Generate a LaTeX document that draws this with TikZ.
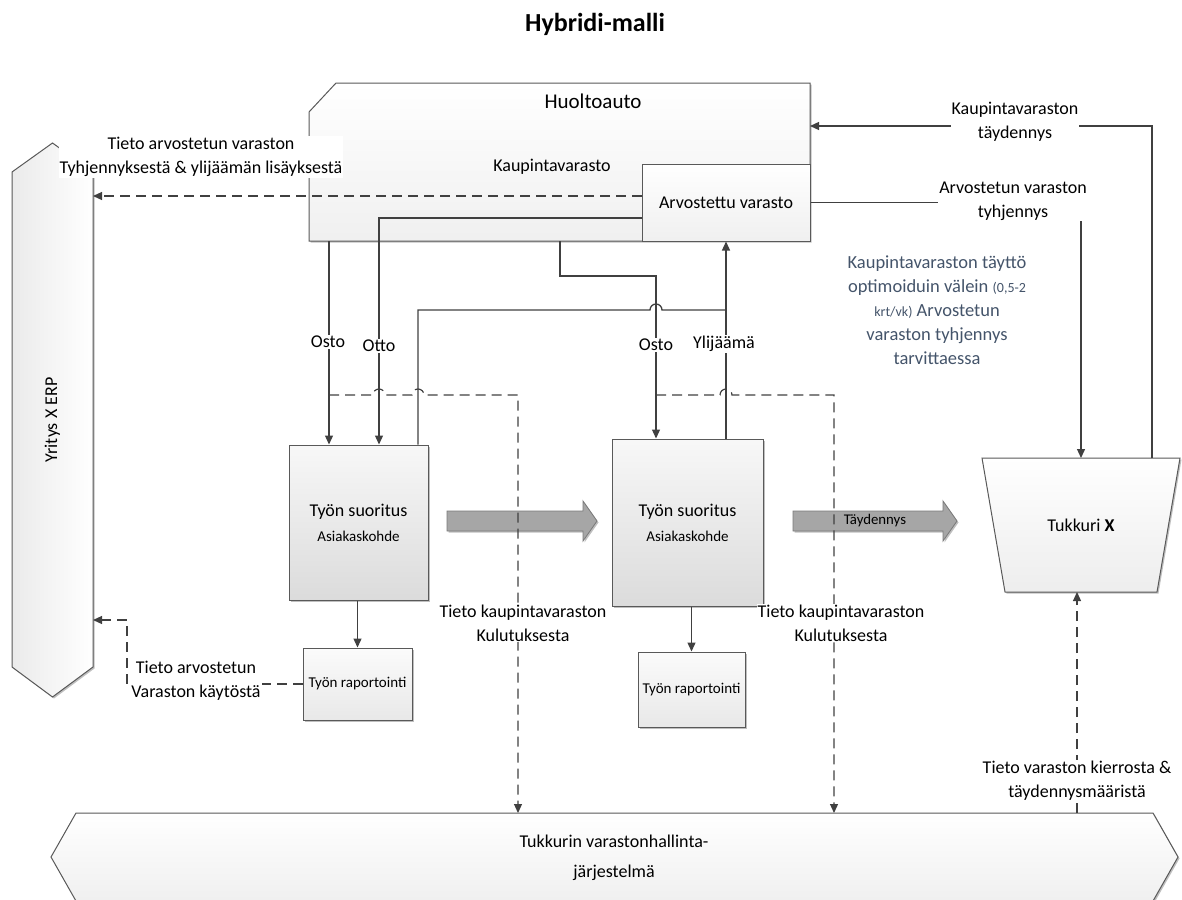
\documentclass[tikz,border=0pt]{standalone}
\usepackage{fontspec}
\setmainfont{Carlito}
\usetikzlibrary{arrows.meta,shadows,calc}

\definecolor{ln}{HTML}{404040}
\definecolor{bd}{HTML}{595959}
\definecolor{note}{HTML}{44546A}
\definecolor{bigarr}{HTML}{A6A6A6}
\definecolor{bigarrbd}{HTML}{7A7A7A}

\tikzset{
  lbl/.style={font=\fontsize{18}{24}\selectfont, align=center, inner sep=1pt, text=black},
  wlbl/.style={lbl, fill=white},
  flow/.style={draw=ln, line width=1.3pt},
  tip/.style={-{Triangle[length=9pt,width=8pt]}},
  info/.style={draw=ln, line width=1.2pt, dash pattern=on 10pt off 6pt},
  box/.style={draw=bd, line width=1pt},
  shd/.style={drop shadow={shadow xshift=1.5pt,shadow yshift=-1.5pt,opacity=0.25,fill=black}},
  frame/.style={inner sep=0pt, outer sep=0pt},
  workbox/.style={box, shd, top color=gray!6, bottom color=gray!28, align=center,
    font=\fontsize{18}{25}\selectfont},
  reportbox/.style={box, shd, top color=gray!3, bottom color=gray!18, align=center,
    font=\fontsize{15}{18}\selectfont, inner sep=1pt},
  bigarrow/.style={fill=bigarr, draw=bigarrbd, line width=0.8pt, shd},
}

\begin{document}
\begin{tikzpicture}[x=1pt,y=-1pt]
\useasboundingbox (0,0) rectangle (1182,899);

% title
\node[font=\fontsize{26}{30}\selectfont\bfseries, anchor=base] (title) at (595,32) {Hybridi-malli};

% ---- service van with its two stocks ----
\node[frame, minimum width=501pt, minimum height=158pt] (hua) at (559.5,162) {};
\path[box, shd, top color=white, bottom color=gray!12]
  ($(hua.north west)+(27,0)$) -- (hua.north east) -- (hua.south east)
  -- (hua.south west) -- ($(hua.north west)+(0,29)$) -- cycle;
\node[lbl, font=\fontsize{21}{24}\selectfont] (huot) at (593,101) {Huoltoauto};
\node[lbl] (kv) at (552,167) {Kaupintavarasto};
\node[box, top color=white, bottom color=gray!12, minimum width=168pt, minimum height=77pt,
      font=\fontsize{18}{22}\selectfont] (arv) at (726,202.5) {Arvostettu varasto};

% ---- ERP column ----
\node[frame, minimum width=81pt, minimum height=554pt] (erp) at (52.5,420) {};
\path[box, shd, left color=gray!16, right color=white]
  (erp.north) -- ($(erp.north east)+(0,29)$) -- ($(erp.south east)+(0,-30)$)
  -- (erp.south) -- ($(erp.south west)+(0,-30)$) -- ($(erp.north west)+(0,29)$) -- cycle;
\node[lbl, rotate=90] (erpt) at (erp) {Yritys X ERP};

% ---- wholesaler ----
\node[frame, minimum width=198pt, minimum height=134pt] (tuk) at (1081,525) {};
\path[box, shd, top color=white, bottom color=gray!14]
  (tuk.north west) -- (tuk.north east) -- ($(tuk.south east)+(-23,0)$)
  -- ($(tuk.south west)+(23,0)$) -- cycle;
\node[lbl] (tukt) at (tuk) {Tukkuri \textbf{X}};

% ---- wholesaler's inventory system ----
\node[frame, minimum width=1127pt, minimum height=88pt] (tbar) at (614.5,857) {};
\path[box, shd, top color=white, bottom color=gray!12]
  ($(tbar.north west)+(25,0)$) -- ($(tbar.north east)+(-25,0)$) -- (tbar.east)
  -- ($(tbar.south east)+(-25,0)$) -- ($(tbar.south west)+(25,0)$) -- (tbar.west) -- cycle;
\node[lbl, font=\fontsize{18}{30}\selectfont] (tbart) at (614,858) {Tukkurin varastonhallinta-\\järjestelmä};

% ---- work on site ----
\node[workbox, minimum width=139pt, minimum height=155pt] (lw) at (358.5,522.5)
  {Työn suoritus\\{\fontsize{15}{18}\selectfont Asiakaskohde}};
\node[workbox, minimum width=151pt, minimum height=167pt] (rw) at (687.5,522.5)
  {Työn suoritus\\{\fontsize{15}{18}\selectfont Asiakaskohde}};
\node[reportbox, minimum width=109pt, minimum height=72pt] (lr) at (357.5,684) {Työn raportointi};
\node[reportbox, minimum width=107pt, minimum height=75pt] (rr) at (691.5,689.5) {Työn raportointi};

% ---- broad process arrows ----
\path[bigarrow] (447,511) -- (583,511) -- (583,501) -- (597,521) -- (583,541) -- (583,531) -- (447,531) -- cycle;
\path[bigarrow] (793,511) -- (943,511) -- (943,501) -- (957,521) -- (943,541) -- (943,531) -- (793,531) -- cycle;
\node[lbl, font=\fontsize{14.8}{18}\selectfont] (tayd) at (875,521) {Täydennys};

% ---- material flows ----
\draw[flow, tip] (hua.south -| 329,0) -- (lw.north -| 329,0);
\draw[flow, tip] (arv.west |- 0,218) -| (lw.north -| 379,0);
\draw[flow, tip] (hua.south -| 560,0) |- (656,276) -- (rw.north -| 656,0);
\draw[flow] (lw.north -| 418,0) |- (650,310) arc[start angle=180, end angle=0, radius=6pt] -- (726,310);
\draw[flow, tip] (rw.north -| 726,0) -- (arv.south -| 726,0);
\draw[flow, tip] (lw.south -| lr.north) -- (lr.north);
\draw[flow, tip] (rw.south -| rr.north) -- (rr.north);
\draw[flow, tip] (tuk.north -| 1152,0) |- (hua.east |- 0,126);
\draw[flow, tip] (arv.east) -| (tuk.north -| 1081,0);

% ---- information flows ----
\coordinate (d1) at (329,395);
\coordinate (d2) at (656,395);
\draw[info, tip] (d1) -- (373,395) arc[start angle=180, end angle=0, radius=6pt]
  -- (412,395) arc[start angle=180, end angle=0, radius=6pt]
  -- (518,395) -- (tbar.north -| 518,0);
\draw[info, tip] (d2) -- (720,395) arc[start angle=180, end angle=0, radius=6pt]
  -- (834,395) -- (tbar.north -| 834,0);
\draw[info, tip] (arv.west |- 0,196) -- (erp.east |- 0,196);
\draw[info, tip] (lr.west) -| (127,620) -- (erp.east |- 0,620);
\draw[info, tip] (tbar.north -| 1077,0) -- (tuk.south -| 1077,0);

% ---- labels ----
\node[wlbl] (lo1) at (328,342) {Osto};
\node[wlbl] (lo2) at (379,346) {Otto};
\node[wlbl] (lo3) at (656,345) {Osto};
\node[wlbl] (ly) at (724,344) {Ylijäämä};
\node[wlbl] (lt1) at (523,623) {Tieto kaupintavaraston\\Kulutuksesta};
\node[wlbl] (lt2) at (841,623) {Tieto kaupintavaraston\\Kulutuksesta};
\node[wlbl] (lerp1) at (201,157) {Tieto arvostetun varaston\\Tyhjennyksestä \& ylijäämän lisäyksestä};
\node[wlbl] (lerp2) at (196,681) {Tieto arvostetun\\Varaston käytöstä};
\node[wlbl] (lkt) at (1015,122) {Kaupintavaraston\\täydennys};
\node[wlbl] (lat) at (1013,201) {Arvostetun varaston\\tyhjennys};
\node[wlbl] (lkier) at (1077,781) {Tieto varaston kierrosta \&\\täydennysmääristä};
\node[lbl, text=note, font=\fontsize{18.5}{24}\selectfont] (memo) at (937,310)
  {Kaupintavaraston täyttö\\optimoiduin välein {\fontsize{14}{24}\selectfont(0,5-2}\\{\fontsize{14}{24}\selectfont krt/vk)} Arvostetun\\varaston tyhjennys\\tarvittaessa};
\end{tikzpicture}
\end{document}
